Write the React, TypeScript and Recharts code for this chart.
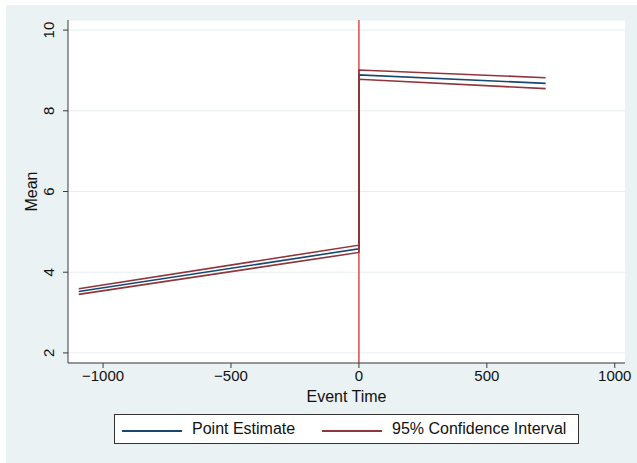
import { CartesianGrid, Label, Line, LineChart, ReferenceLine, XAxis, YAxis } from "recharts"

const eventTime = [-1095, 0, 0, 730]
const pointEstimate = [3.52, 4.58, 8.89, 8.68]
const ciUpper = [3.59, 4.67, 9.01, 8.82]
const ciLower = [3.45, 4.49, 8.78, 8.55]

const xTicks = [-1000, -500, 0, 500, 1000]
const yTicks = [2, 4, 6, 8, 10]

const data = eventTime.map((t, i) => ({
  t,
  est: pointEstimate[i],
  hi: ciUpper[i],
  lo: ciLower[i],
}))

const font = '"Liberation Sans", Arial, Helvetica, sans-serif'
const navy = "#1a476f"
const maroon = "#90353b"
const axisColor = "#3a3a3a"

const fmtX = (v: number) => (v < 0 ? `\u2212${Math.abs(v)}` : `${v}`)

function YTick(props: any) {
  const { x, y, payload } = props
  return (
    <g transform={`translate(${x - 7}, ${y}) rotate(-90)`}>
      <text x={0} y={0} textAnchor="middle" fontSize={15} fill="#111" fontFamily={font}>
        {payload.value}
      </text>
    </g>
  )
}

function MeanLabel(props: any) {
  const vb = props.viewBox
  const cx = vb.x + 31
  const cy = vb.y + vb.height / 2
  return (
    <g transform={`translate(${cx}, ${cy}) rotate(-90)`}>
      <text x={0} y={0} textAnchor="middle" fontSize={16} fill="#111" fontFamily={font}>
        Mean
      </text>
    </g>
  )
}

export default function App() {
  return (
    <div style={{ position: "fixed", left: 0, top: 0, width: 637, height: 463, background: "#fff" }}>
      <div style={{ position: "absolute", left: 6, top: 5, width: 631, height: 458, background: "#eaf2f3" }}>
        <LineChart width={631} height={458} data={data} margin={{ top: 15, right: 12, bottom: 60, left: 0 }}>
          <CartesianGrid vertical={false} stroke="#e6eff0" fill="#ffffff" />
          <XAxis
            dataKey="t"
            type="number"
            domain={[-1137, 1040]}
            ticks={xTicks}
            tickFormatter={fmtX}
            height={40}
            stroke={axisColor}
            tickSize={5}
            tick={{ fontSize: 15, fill: "#111", fontFamily: font }}
            allowDataOverflow
          >
            <Label value="Event Time" position="insideBottom" offset={1} fontSize={16} fill="#111" fontFamily={font} />
          </XAxis>
          <YAxis
            type="number"
            domain={[1.75, 10.25]}
            ticks={yTicks}
            width={62}
            stroke={axisColor}
            tickSize={5}
            tick={<YTick />}
            allowDataOverflow
          >
            <Label content={<MeanLabel />} />
          </YAxis>
          <ReferenceLine x={0} stroke="#de5656" strokeWidth={1.6} />
          <Line dataKey="est" stroke={navy} strokeWidth={1.6} dot={false} isAnimationActive={false} />
          <Line dataKey="hi" stroke={maroon} strokeWidth={1.6} dot={false} isAnimationActive={false} />
          <Line dataKey="lo" stroke={maroon} strokeWidth={1.6} dot={false} isAnimationActive={false} />
        </LineChart>
        <div
          style={{
            position: "absolute",
            left: 108,
            top: 409,
            width: 463,
            height: 28,
            background: "#fff",
            border: "1px solid #333",
            fontFamily: font,
            fontSize: 16,
            color: "#111",
          }}
        >
          <div style={{ position: "absolute", left: 7, top: 15, width: 60, borderTop: `2px solid ${navy}` }} />
          <div style={{ position: "absolute", left: 77, top: 4, lineHeight: "20px", whiteSpace: "nowrap" }}>Point Estimate</div>
          <div style={{ position: "absolute", left: 207, top: 15, width: 60, borderTop: `2px solid ${maroon}` }} />
          <div style={{ position: "absolute", left: 277, top: 4, lineHeight: "20px", whiteSpace: "nowrap" }}>
            95% Confidence Interval
          </div>
        </div>
      </div>
    </div>
  )
}
